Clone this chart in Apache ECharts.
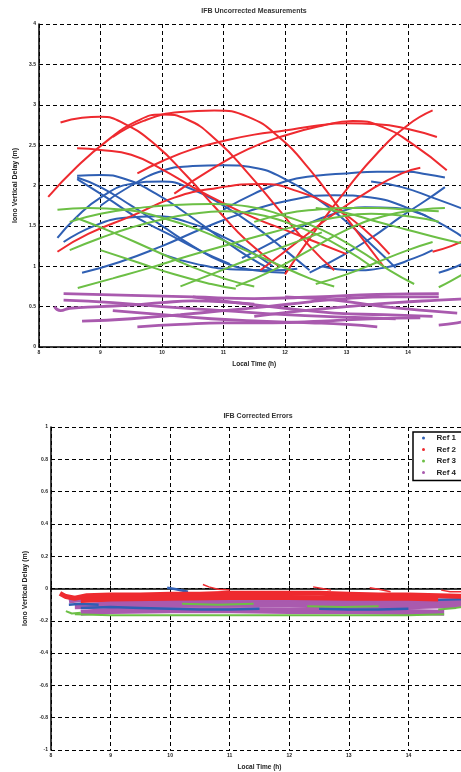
<!DOCTYPE html>
<html>
<head>
<meta charset="utf-8">
<script src="https://cdn.jsdelivr.net/npm/echarts@6/dist/echarts.min.js"></script>
<style>
html, body { margin: 0; padding: 0; background: #fff; overflow: hidden; }
/* the figure is cropped on the right, so the canvas runs past the window */
#main { width: 480px; height: 772px; }
</style>
</head>
<body>
<div id="main"></div>
<script>
// tick labels
var xTicks = [8, 9, 10, 11, 12, 13, 14, 15];
var topYTicks = [0, 0.5, 1, 1.5, 2, 2.5, 3, 3.5, 4];
var botYTicks = [-1, -0.8, -0.6, -0.4, -0.2, 0, 0.2, 0.4, 0.6, 0.8, 1];
var refNames = ['Ref 1', 'Ref 2', 'Ref 3', 'Ref 4'];

// uncorrected arcs, one list of [time, delay] per satellite pass
var ref1Arcs = [
    [[9.0,1.75],[9.5,2.0],[10.0,2.18],[10.5,2.24],[11.0,2.25],[11.5,2.22],[12.0,2.08],[12.5,1.85],[13.0,1.55],[13.5,1.2],[13.8,0.98]],
    [[11.0,1.7],[11.5,1.9],[12.0,2.05],[12.5,2.12],[13.0,2.15],[13.5,2.17],[14.0,2.17],[14.3,2.14],[14.6,2.1]],
    [[8.62,2.12],[9.0,2.13],[9.4,2.08],[9.9,1.9],[10.4,1.65],[10.9,1.38],[11.4,1.12],[11.8,0.95]],
    [[8.62,2.1],[9.0,1.98],[9.5,1.75],[10.0,1.5],[10.5,1.25],[11.0,1.05],[11.5,0.95],[12.0,0.92]],
    [[8.62,2.08],[9.1,1.85],[9.6,1.6],[10.1,1.4],[10.6,1.2],[11.1,1.03]],
    [[8.7,0.92],[9.3,1.05],[10.0,1.25],[10.7,1.48],[11.4,1.68],[12.1,1.82],[12.8,1.88],[13.4,1.85],[14.0,1.72],[14.6,1.5],[15.0,1.3]],
    [[8.3,1.35],[8.6,1.6],[9.0,1.85],[9.5,2.02],[10.0,2.05],[10.5,1.95],[11.0,1.75],[11.5,1.5],[12.0,1.2],[12.4,0.95]],
    [[12.4,0.92],[12.9,1.12],[13.4,1.35],[13.9,1.62],[14.3,1.82],[14.6,1.98]],
    [[10.0,1.15],[10.6,1.02],[11.2,0.96],[11.8,0.95],[12.2,0.97]],
    [[14.5,0.92],[14.8,1.0],[15.0,1.08]],
    [[13.4,2.05],[13.9,1.98],[14.4,1.85],[15.0,1.68]],
    [[11.3,1.1],[11.8,1.3],[12.3,1.5],[12.8,1.65],[13.3,1.73],[13.8,1.72],[14.3,1.62]],
    [[8.4,1.3],[8.9,1.5],[9.4,1.6],[9.9,1.62],[10.4,1.55],[10.9,1.4],[11.4,1.2],[11.8,1.0]],
    [[12.6,1.0],[13.1,0.95],[13.6,0.98],[14.1,1.1],[14.4,1.2]]
];
var ref2Arcs = [
    [[8.35,2.78],[8.7,2.84],[9.0,2.85],[9.4,2.76],[9.9,2.5],[10.4,2.12],[10.9,1.7],[11.4,1.3],[11.9,1.0]],
    [[8.15,1.86],[8.6,2.22],[9.1,2.55],[9.6,2.8],[10.0,2.88],[10.4,2.82],[10.9,2.55],[11.4,2.15],[11.9,1.7],[12.4,1.25],[12.8,0.95]],
    [[9.2,2.6],[9.7,2.8],[10.3,2.91],[10.85,2.93],[11.4,2.85],[11.9,2.6],[12.4,2.2],[12.9,1.7],[13.3,1.3],[13.6,1.0]],
    [[8.62,2.46],[9.0,2.44],[9.5,2.38],[10.0,2.2],[10.5,1.98],[11.0,1.78],[11.5,1.6],[12.0,1.45],[12.5,1.3],[13.0,1.15]],
    [[9.6,2.15],[10.0,2.3],[10.5,2.45],[11.0,2.55],[11.5,2.63],[12.0,2.68],[12.5,2.74],[13.0,2.77],[13.5,2.76],[14.0,2.7],[14.47,2.6]],
    [[10.2,1.9],[10.8,2.2],[11.4,2.45],[12.0,2.62],[12.6,2.74],[13.1,2.8],[13.6,2.72],[14.1,2.5],[14.63,2.19]],
    [[12.0,0.9],[12.5,1.45],[13.0,1.95],[13.5,2.4],[14.0,2.75],[14.4,2.93]],
    [[8.3,1.18],[8.8,1.4],[9.5,1.62],[10.2,1.85],[10.9,1.97],[11.6,2.02],[12.2,1.93],[12.8,1.72],[13.3,1.45],[13.7,1.15]],
    [[14.4,1.18],[14.7,1.25],[15.0,1.35]],
    [[11.6,0.95],[12.2,1.3],[12.8,1.65],[13.4,1.95],[13.9,2.15],[14.2,2.22]]
];
var ref3Arcs = [
    [[8.3,1.7],[8.8,1.72],[9.4,1.7],[10.0,1.6],[10.6,1.45],[11.2,1.25],[11.8,1.05],[12.4,0.85],[12.8,0.75]],
    [[8.5,1.55],[9.0,1.65],[9.6,1.72],[10.2,1.76],[10.8,1.77],[11.4,1.74],[12.0,1.62],[12.6,1.45],[13.2,1.2],[13.7,0.95],[14.1,0.78]],
    [[8.63,0.73],[9.2,0.85],[9.8,0.98],[10.4,1.12],[11.0,1.25],[11.6,1.38],[12.2,1.5],[12.8,1.6],[13.4,1.65],[14.0,1.62],[14.5,1.55]],
    [[8.5,1.2],[9.0,1.35],[9.5,1.48],[10.0,1.58],[10.5,1.65],[11.0,1.68],[11.5,1.65],[12.0,1.55],[12.5,1.4],[13.0,1.2],[13.4,1.0]],
    [[8.6,1.6],[9.2,1.42],[9.8,1.22],[10.4,1.02],[11.0,0.85],[11.5,0.75]],
    [[9.0,1.2],[9.6,1.05],[10.2,0.9],[10.8,0.78],[11.2,0.72]],
    [[11.2,0.75],[11.8,0.95],[12.4,1.2],[13.0,1.45],[13.6,1.62],[14.2,1.7],[14.6,1.72]],
    [[11.5,1.55],[12.0,1.65],[12.5,1.7],[13.0,1.72],[13.5,1.72],[14.0,1.7],[14.5,1.68]],
    [[12.5,1.72],[13.0,1.66],[13.5,1.55],[14.0,1.45],[14.5,1.35],[14.9,1.28]],
    [[10.3,0.75],[10.8,0.9],[11.4,1.08],[12.0,1.25],[12.6,1.42]],
    [[14.5,0.74],[14.7,0.82],[15.0,0.95]],
    [[12.5,0.78],[13.0,0.9],[13.5,1.05],[14.0,1.2],[14.4,1.3]]
];
var ref4Arcs = [
    [[8.4,0.66],[9.5,0.64],[10.5,0.62],[11.5,0.6],[12.5,0.62],[13.5,0.65],[14.5,0.66]],
    [[8.4,0.58],[9.2,0.55],[10.0,0.5],[11.0,0.45],[12.0,0.4],[13.0,0.37],[13.8,0.35]],
    [[8.25,0.5],[8.35,0.45],[8.5,0.48],[9.0,0.5],[9.5,0.52],[10.0,0.55],[10.5,0.57],[11.0,0.56],[11.5,0.53]],
    [[8.7,0.32],[9.5,0.35],[10.3,0.4],[11.0,0.45],[11.7,0.5],[12.4,0.56],[13.0,0.6],[13.7,0.62],[14.5,0.62]],
    [[9.6,0.25],[10.3,0.28],[11.0,0.3],[11.8,0.3],[12.6,0.32],[13.4,0.35],[14.2,0.36]],
    [[9.2,0.45],[10.0,0.4],[10.8,0.35],[11.6,0.32],[12.4,0.3],[13.0,0.28],[13.5,0.25]],
    [[10.5,0.62],[11.2,0.55],[12.0,0.48],[12.8,0.42],[13.6,0.4],[14.4,0.38]],
    [[11.5,0.38],[12.3,0.45],[13.0,0.5],[13.8,0.55],[14.5,0.58],[15.0,0.6]],
    [[14.5,0.27],[14.8,0.3],[15.0,0.33]],
    [[12.0,0.62],[12.8,0.58],[13.6,0.5],[14.3,0.45],[14.8,0.42]]
];

// corrected errors
var ref1Err = [
    [[8.5,-0.12],[9,-0.115],[9.5,-0.12],[10,-0.125],[10.5,-0.13],[11,-0.13],[11.5,-0.125]],
    [[12.5,-0.125],[13,-0.13],[13.5,-0.13],[14,-0.125]],
    [[14.1,-0.06],[14.5,-0.07],[15,-0.065]],
    [[9.95,0.005],[10.1,-0.005],[10.3,-0.02]],
    [[8.3,-0.1],[8.5,-0.095],[8.8,-0.1]]
];
var ref2Err = [
    [[8.15,-0.03],[8.25,-0.05],[8.4,-0.06],[8.6,-0.045],[9,-0.04],[9.5,-0.04],[10,-0.035],[10.5,-0.035],[11,-0.03],[11.5,-0.03],[12,-0.03],[12.5,-0.03],[13,-0.035],[13.5,-0.04],[14,-0.04],[14.5,-0.045],[15,-0.05]],
    [[8.5,-0.075],[9,-0.065],[10,-0.06],[11,-0.055],[12,-0.055],[13,-0.06],[14,-0.06],[14.5,-0.065]]
];
var ref2Spikes = [
    [[10.55,0.025],[10.65,0.01],[10.8,-0.005],[11.0,-0.01]],
    [[12.4,0.01],[12.55,0.0],[12.7,-0.01]],
    [[13.35,0.005],[13.5,-0.005],[13.7,-0.02]],
    [[14.55,-0.01],[14.7,-0.02],[14.9,-0.02],[15,-0.015]]
];
var ref3Err = [
    [[8.4,-0.16],[9,-0.165],[10,-0.165],[11,-0.165],[12,-0.165],[13,-0.165],[14,-0.165],[14.6,-0.16]],
    [[10.2,-0.095],[10.8,-0.1],[11.4,-0.095]],
    [[12.3,-0.11],[12.9,-0.115],[13.5,-0.11]],
    [[14.5,-0.13],[14.8,-0.12],[15,-0.11]],
    [[8.25,-0.14],[8.35,-0.155],[8.5,-0.15]]
];
var ref4Err = [
    [[8.3,-0.075],[8.5,-0.065],[9,-0.075],[9.5,-0.075],[10,-0.07],[10.5,-0.07],[11,-0.07],[11.5,-0.075],[12,-0.075],[12.5,-0.075],[13,-0.08],[13.5,-0.08],[14,-0.08],[14.5,-0.085],[15,-0.085]],
    [[8.4,-0.11],[9,-0.105],[10,-0.1],[11,-0.1],[12,-0.1],[13,-0.105],[14,-0.11],[15,-0.1]],
    [[8.5,-0.15],[9,-0.14],[10,-0.135],[11,-0.135],[12,-0.14],[13,-0.14],[14,-0.145],[14.6,-0.15]]
];

var colors = ['#2f5fb3', '#ee2a2f', '#6cbf45', '#a95aae'];

function makeSeries(arcs, ref, width, idx, smooth) {
    return arcs.map(function (a) {
        return {
            name: refNames[ref],
            type: 'line',
            xAxisIndex: idx,
            yAxisIndex: idx,
            data: a,
            showSymbol: false,
            smooth: smooth,
            silent: true,
            itemStyle: { color: colors[ref] },
            lineStyle: { color: colors[ref], width: width }
        };
    });
}

function xAxis(idx) {
    return {
        type: 'value', gridIndex: idx, min: 8, max: 15, interval: 1,
        name: 'Local Time (h)', nameLocation: 'middle', nameGap: 14,
        nameTextStyle: { fontSize: 6.5, fontWeight: 'bold', color: '#222', fontFamily: 'Liberation Sans' },
        axisLine: { lineStyle: { color: '#000', width: 1.5 } },
        axisTick: { inside: true, length: 3, lineStyle: { color: '#000' } },
        axisLabel: { fontSize: 5, fontWeight: 'bold', color: '#222', margin: 3, fontFamily: 'Liberation Sans' },
        splitLine: { show: true, lineStyle: { color: '#000', type: [4, 3], width: 1 } }
    };
}

function yAxis(idx, min, max, interval, gap) {
    return {
        type: 'value', gridIndex: idx, min: min, max: max, interval: interval,
        name: 'Iono Vertical Delay (m)', nameLocation: 'middle', nameGap: gap,
        nameTextStyle: { fontSize: 7, fontWeight: 'bold', color: '#222', fontFamily: 'Liberation Sans' },
        axisLine: { show: true, lineStyle: { color: '#000', width: 1.5 } },
        axisTick: { show: true, inside: true, length: 3, lineStyle: { color: '#000' } },
        axisLabel: { fontSize: 5, fontWeight: 'bold', color: '#222', margin: 3, fontFamily: 'Liberation Sans' },
        splitLine: { show: true, lineStyle: { color: '#000', type: [4, 3], width: 1 } }
    };
}

var series = [].concat(
    makeSeries(ref1Arcs, 0, 2, 0, true),
    makeSeries(ref2Arcs, 1, 2, 0, true),
    makeSeries(ref3Arcs, 2, 2, 0, true),
    makeSeries(ref4Arcs, 3, 2.8, 0, true),
    makeSeries(ref4Err, 3, 6, 1, false),
    makeSeries(ref1Err, 0, 2.5, 1, false),
    makeSeries(ref3Err, 2, 2, 1, false),
    makeSeries(ref2Err, 1, 5, 1, false),
    makeSeries(ref2Spikes, 1, 1.5, 1, false)
);

var myChart = echarts.init(document.getElementById('main'));
var option = {
    animation: false,
    backgroundColor: '#fff',
    graphic: [
        { type: 'text', x: 254, y: 8, style: { text: 'IFB Uncorrected Measurements', textAlign: 'center', font: 'bold 7px "Liberation Sans"', fill: '#333' } },
        { type: 'text', x: 258, y: 413, style: { text: 'IFB Corrected Errors', textAlign: 'center', font: 'bold 7px "Liberation Sans"', fill: '#333' } }
    ],
    legend: {
        data: refNames,
        orient: 'vertical',
        left: 413, top: 432,
        icon: 'circle',
        itemWidth: 16, itemHeight: 3, itemGap: 3.5,
        padding: [2, 8, 4, 9],
        borderColor: '#000', borderWidth: 1.5,
        backgroundColor: '#fff',
        selectedMode: false,
        textStyle: { fontSize: 8, fontWeight: 'bold', color: '#222', lineHeight: 8, fontFamily: 'Liberation Sans' }
    },
    grid: [
        { left: 39, top: 24, bottom: 425, right: 10.5 },
        { left: 51, top: 427, bottom: 21, right: 12 }
    ],
    xAxis: [xAxis(0), xAxis(1)],
    yAxis: [yAxis(0, 0, 4, 0.5, 20), yAxis(1, -1, 1, 0.2, 21)],
    series: series
};
myChart.setOption(option);
</script>
</body>
</html>
